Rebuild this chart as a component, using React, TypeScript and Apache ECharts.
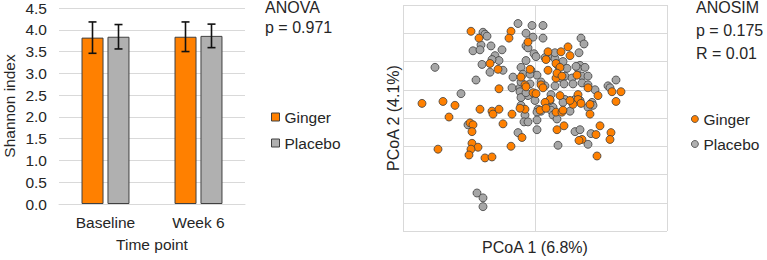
import React, { useEffect, useRef } from "react";
import * as echarts from "echarts";

const timePoints = ["Baseline", "Week 6"];
const gingerMean = [3.82, 3.84];
const gingerErr = [0.36, 0.34];
const placeboMean = [3.84, 3.86];
const placeboErr = [0.28, 0.27];
const shannonTicks = [0, 0.5, 1, 1.5, 2, 2.5, 3, 3.5, 4, 4.5];

const gingerPCoA: [number, number][] = [
  [-0.64, 0.89], [-0.56, 0.82], [-0.24, 0.89], [-0.26, 0.82], [-0.07, 0.78],
  [-0.45, 0.56], [-0.37, 0.5], [-0.36, 0.3], [-1.13, 0.15], [-0.92, 0.17],
  [-0.8, 0.13], [-0.86, 0.01], [-0.55, 0.09], [-0.43, 0.07], [-0.42, 0.04],
  [-0.36, 0.09], [-0.23, 0.04], [-0.1, 0.09], [-0.65, -0.05], [-0.62, -0.07],
  [-0.63, -0.14], [-0.32, -0.06], [-0.13, -0.2], [-0.97, -0.32], [-0.63, -0.26],
  [-0.57, -0.3], [-0.64, -0.32], [-0.66, -0.38], [-0.5, -0.41], [-0.43, -0.4],
  [-0.24, -0.29], [0.13, 0.68], [0.26, 0.68], [0.33, 0.73], [0.35, 0.64],
  [0.11, 0.6], [0.21, 0.56], [-0.05, 0.5], [0.13, 0.49], [-0.14, 0.42],
  [0.21, 0.41], [-0.1, 0.34], [-0.09, 0.32], [0.06, 0.34], [0.08, 0.31],
  [-0.02, 0.26], [0.01, 0.25], [0.15, 0.19], [-0.15, 0.1], [0.21, 0.06],
  [0.25, 0.52], [0.22, 0.46], [0.27, 0.43], [0.42, 0.44], [0.53, 0.31],
  [0.63, 0.23], [0.77, 0.27], [0.86, 0.27], [0.81, 0.17], [0.25, 0.23],
  [0.43, 0.24], [0.43, 0.19], [0.46, 0.15], [0.38, 0.14], [0.35, 0.18],
  [0.55, 0.04], [0.27, 0.06], [0.1, 0.16], [0.05, 0.08], [0.28, 0.08],
  [0.55, 0.14], [0.22, -0.12], [0.29, -0.08], [0.65, -0.08], [0.47, -0.22],
  [0.44, -0.23], [0.61, -0.17], [0.76, -0.15], [0.75, -0.22], [0.62, -0.39],
  [0.11, 0.1],
];

const placeboPCoA: [number, number][] = [
  [-0.17, 0.97], [-0.03, 0.95], [0.08, 0.95], [-0.52, 0.88], [-0.5, 0.86],
  [-0.48, 0.84], [-0.09, 0.87], [-0.02, 0.83], [0.08, 0.82], [0.46, 0.82],
  [0.49, 0.76], [-0.54, 0.75], [-0.44, 0.74], [-0.62, 0.69], [-0.55, 0.7],
  [-0.33, 0.7], [-0.09, 0.74], [-0.07, 0.72], [-0.01, 0.66], [-0.4, 0.64],
  [-0.36, 0.59], [-0.53, 0.55], [-1.0, 0.52], [-0.45, 0.47], [-0.32, 0.49],
  [-0.59, 0.39], [-0.22, 0.42], [-0.23, 0.31], [-0.74, 0.25], [-0.43, 0.6],
  [-0.09, 0.59], [0.01, 0.63], [0.13, 0.63], [0.2, 0.61], [-0.14, 0.52],
  [-0.04, 0.49], [-0.12, 0.45], [0.02, 0.44], [-0.15, 0.31], [-0.14, 0.37],
  [-0.05, 0.35], [0.06, 0.37], [0.1, 0.33], [-0.07, 0.23], [-0.15, 0.27],
  [0.16, 0.24], [0.2, 0.33], [0.0, 0.18], [-0.14, 0.13], [0.03, 0.09],
  [0.06, 0.07], [0.18, 0.11], [-0.1, 0.03], [0.23, 0.54], [0.45, 0.54],
  [0.43, 0.51], [0.5, 0.52], [0.26, 0.41], [0.3, 0.43], [0.37, 0.41],
  [0.47, 0.43], [0.53, 0.43], [0.29, 0.35], [0.47, 0.36], [0.53, 0.34],
  [0.6, 0.29], [0.73, 0.33], [0.81, 0.39], [0.75, 0.31], [0.4, 0.19],
  [0.3, 0.19], [0.28, 0.16], [0.57, 0.16], [0.58, 0.13], [0.53, 0.11],
  [0.35, 0.07], [0.1, 0.62], [0.2, 0.67], [0.44, 0.67], [0.41, 0.53],
  [0.15, 0.18], [0.02, 0.06], [0.16, 0.08], [0.18, 0.03], [0.45, 0.18],
  [0.02, -0.02], [0.02, -0.12], [0.4, -0.14], [0.45, -0.12], [0.56, -0.16],
  [0.53, -0.27], [0.23, -0.28], [-0.11, -0.04], [-0.07, -0.04], [-0.67, -0.07],
  [-0.17, -0.15], [-0.58, -0.77], [-0.52, -0.82], [-0.52, -0.91], [-0.14, 0.21],
  [0.22, -0.01], [0.28, 0.58], [0.32, 0.51], [0.38, 0.35], [-0.05, 0.45],
  [-0.09, 0.26],
];

const anovaText = ["ANOVA", "p = 0.971"];
const anosimText = ["ANOSIM", "p = 0.175", "R = 0.01"];

const ORANGE = "#ff8000";
const GRAY = "#b0b0b0";
const EDGE = "#404040";
const GRID = "#d9d9d9";
const TEXT = "#262626";
const FONT = "'Liberation Sans', Arial, Helvetica, sans-serif";

function errorSeries(name: string, means: number[], errs: number[], offset: number) {
  return {
    type: "custom",
    name: name + " error",
    xAxisIndex: 0,
    yAxisIndex: 0,
    z: 5,
    silent: true,
    data: means.map((m, i) => [i, m - errs[i], m + errs[i]]),
    renderItem: (params: any, api: any) => {
      const i = api.value(0);
      const top = api.coord([i, api.value(2)]);
      const bot = api.coord([i, api.value(1)]);
      const x = top[0] + offset;
      const style = { stroke: "#111", lineWidth: 1.6 };
      return {
        type: "group",
        children: [
          { type: "line", shape: { x1: x, y1: top[1], x2: x, y2: bot[1] }, style },
          { type: "line", shape: { x1: x - 4, y1: top[1], x2: x + 4, y2: top[1] }, style },
          { type: "line", shape: { x1: x - 4, y1: bot[1], x2: x + 4, y2: bot[1] }, style },
        ],
      };
    },
  };
}

export default function App() {
  const ref = useRef<HTMLDivElement>(null);
  useEffect(() => {
    if (!ref.current) return;
    const chart = echarts.init(ref.current, undefined, { renderer: "svg" });
    const axisName = { fontSize: 15.5, color: TEXT, fontFamily: FONT };
    const option: any = {
      animation: false,
      textStyle: { fontFamily: FONT, color: TEXT },
      grid: [
        { left: 55, top: 8, width: 190, height: 196 },
        { left: 403, top: 5, width: 264, height: 232 },
      ],
      xAxis: [
        {
          gridIndex: 0,
          type: "category",
          data: timePoints,
          axisLine: { show: true, lineStyle: { color: GRID } },
          axisTick: { show: false },
          axisLabel: { fontSize: 15.5, color: TEXT, margin: 10, fontFamily: FONT },
          name: "Time point",
          nameLocation: "middle",
          nameGap: 32,
          nameTextStyle: axisName,
        },
        {
          gridIndex: 1,
          type: "value",
          min: -1.32,
          max: 1.32,
          interval: 1.32,
          axisLine: { show: false },
          axisTick: { show: false },
          axisLabel: { show: false },
          splitLine: { show: true, lineStyle: { color: GRID, width: 1 } },
          name: "PCoA 1 (6.8%)",
          nameLocation: "middle",
          nameGap: 8,
          nameTextStyle: { fontSize: 16, color: TEXT, fontFamily: FONT },
        },
      ],
      yAxis: [
        {
          gridIndex: 0,
          type: "value",
          min: shannonTicks[0],
          max: shannonTicks[shannonTicks.length - 1],
          interval: shannonTicks[1] - shannonTicks[0],
          axisLine: { show: false },
          axisTick: { show: false },
          axisLabel: {
            fontSize: 15.5,
            color: TEXT,
            margin: 12,
            fontFamily: FONT,
            formatter: (v: number) => v.toFixed(1),
          },
          splitLine: { show: true, lineStyle: { color: GRID, width: 1 } },
          name: "Shannon index",
          nameLocation: "middle",
          nameGap: 42,
          nameTextStyle: axisName,
        },
        {
          gridIndex: 1,
          type: "value",
          min: -1.16,
          max: 1.16,
          interval: 0.29,
          axisLine: { show: false },
          axisTick: { show: false },
          axisLabel: { show: false },
          splitLine: { show: true, lineStyle: { color: GRID, width: 1 } },
          name: "PCoA 2 (4.1%)",
          nameLocation: "middle",
          nameGap: 2,
          nameTextStyle: { fontSize: 16, color: TEXT, fontFamily: FONT },
        },
      ],
      legend: [
        {
          left: 266,
          top: 104,
          orient: "vertical",
          itemWidth: 8,
          itemHeight: 8,
          itemGap: 10,
          textStyle: { fontSize: 15.5, color: TEXT, fontFamily: FONT, lineHeight: 16 },
          itemStyle: { borderColor: EDGE, borderWidth: 1 },
          data: [
            { name: "Ginger", icon: "rect" },
            { name: "Placebo", icon: "rect" },
          ],
          selectedMode: false,
        },
        {
          left: 686,
          top: 106,
          orient: "vertical",
          itemWidth: 7,
          itemHeight: 7,
          itemGap: 9,
          textStyle: { fontSize: 15.5, color: TEXT, fontFamily: FONT, lineHeight: 16 },
          itemStyle: { borderColor: EDGE, borderWidth: 0.8 },
          data: [
            { name: "Ginger", icon: "circle" },
            { name: "Placebo", icon: "circle" },
          ],
          selectedMode: false,
        },
      ],
      series: [
        {
          type: "bar",
          name: "Ginger",
          xAxisIndex: 0,
          yAxisIndex: 0,
          data: gingerMean,
          barWidth: 22,
          barGap: "18%",
          itemStyle: { color: ORANGE, borderColor: EDGE, borderWidth: 1 },
        },
        {
          type: "bar",
          name: "Placebo",
          xAxisIndex: 0,
          yAxisIndex: 0,
          data: placeboMean,
          barWidth: 22,
          barGap: "18%",
          itemStyle: { color: GRAY, borderColor: EDGE, borderWidth: 1 },
        },
        errorSeries("Ginger", gingerMean, gingerErr, -13),
        errorSeries("Placebo", placeboMean, placeboErr, 13),
        {
          type: "scatter",
          name: "Placebo",
          xAxisIndex: 1,
          yAxisIndex: 1,
          data: placeboPCoA,
          symbol: "circle",
          symbolSize: 8,
          itemStyle: { color: "#a6a6a6", borderColor: EDGE, borderWidth: 0.8, opacity: 1 },
        },
        {
          type: "scatter",
          name: "Ginger",
          xAxisIndex: 1,
          yAxisIndex: 1,
          data: gingerPCoA,
          symbol: "circle",
          symbolSize: 8,
          itemStyle: { color: ORANGE, borderColor: EDGE, borderWidth: 0.8, opacity: 1 },
        },
      ],
      graphic: [
        ...anovaText.map((t, i) => ({
          type: "text",
          x: 265,
          y: 7.5 + i * 20,
          style: { text: t, fontSize: 16, fontFamily: FONT, fill: TEXT, verticalAlign: "middle" },
        })),
        ...anosimText.map((t, i) => ({
          type: "text",
          x: 696,
          y: 7.5 + i * 23,
          style: { text: t, fontSize: 16, fontFamily: FONT, fill: TEXT, verticalAlign: "middle" },
        })),
      ],
    };
    chart.setOption(option);
    return () => chart.dispose();
  }, []);
  return (
    <div
      ref={ref}
      style={{ position: "absolute", left: 0, top: 0, width: 767, height: 260, background: "#fff" }}
    />
  );
}
